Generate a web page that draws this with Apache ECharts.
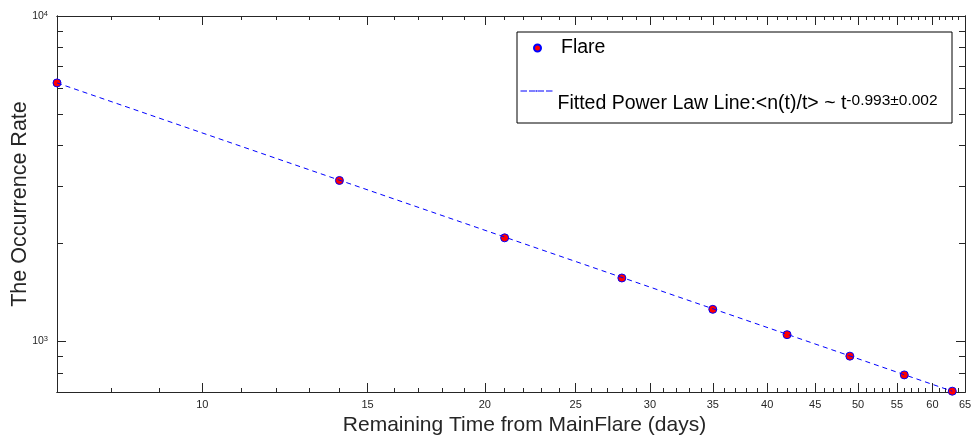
<!DOCTYPE html>
<html>
<head>
<meta charset="utf-8">
<script src="https://cdn.jsdelivr.net/npm/echarts@6/dist/echarts.min.js"></script>
<style>html,body{margin:0;padding:0;background:#fff}#c{width:971px;height:439px}</style>
</head>
<body>
<div id="c"></div>
<script>
// ---- data ----
const days = [7, 14, 21, 28, 35, 42, 49, 56, 63];
const rates = [6230, 3125, 2083, 1568, 1256, 1050, 902, 790, 704];
const fitDays = [7, 63];
const fitRates = [6230, 704];
const xMajorTicks = [10, 15, 20, 25, 30, 35, 40, 45, 50, 55, 60, 65];
const xMinorTicks = [];
for (let i = 7; i <= 65; i++) xMinorTicks.push(i);
const yMajorTicks = [1000, 10000];
const yMinorTicks = [800, 900, 2000, 3000, 4000, 5000, 6000, 7000, 8000, 9000];
const xMin = 7, xMax = 65, yMin = 700, yMax = 10000;

const FONT = 'Liberation Sans';
const AX = '#262626';
const L = Math.log10;

function xHelper(position, ticks, len, labels, extra) {
  return Object.assign({
    type: 'value', position: position, min: L(xMin), max: L(xMax),
    axisLine: {show: true, onZero: false, lineStyle: {color: AX, width: 1}},
    axisTick: {show: true, inside: true, length: len, customValues: ticks.map(L), lineStyle: {color: AX, width: 1}},
    axisLabel: labels ? {show: true, customValues: ticks.map(L), margin: 7, fontFamily: FONT, fontSize: 11, color: AX,
      formatter: v => String(Math.round(Math.pow(10, v)))} : {show: false},
    splitLine: {show: false}
  }, extra || {});
}
function yHelper(position, ticks, len, labels, extra) {
  return Object.assign({
    type: 'value', position: position, min: L(yMin), max: L(yMax),
    axisLine: {show: true, onZero: false, lineStyle: {color: AX, width: 1}},
    axisTick: {show: true, inside: true, length: len, customValues: ticks.map(L), lineStyle: {color: AX, width: 1}},
    axisLabel: labels ? {show: true, customValues: ticks.map(L), margin: 9, fontFamily: FONT, color: AX,
      formatter: v => '{b|10}{s|' + Math.round(v) + '}',
      rich: {b: {fontSize: 10.5, fontFamily: FONT, color: AX, lineHeight: 13},
             s: {fontSize: 7.5, fontFamily: FONT, color: AX, lineHeight: 8, verticalAlign: 'top'}}} : {show: false},
    splitLine: {show: false}
  }, extra || {});
}

const chart = echarts.init(document.getElementById('c'));
chart.setOption({
  animation: false,
  backgroundColor: '#fff',
  grid: {left: 57, top: 16, right: 6, bottom: 47, outerBoundsMode: 'none', containLabel: false},
  xAxis: [
    {type: 'log', min: xMin, max: xMax, show: false, splitLine: {show: false}},
    xHelper('bottom', xMajorTicks, 9, true, {
      name: 'Remaining Time from MainFlare (days)', nameLocation: 'middle', nameGap: 23, nameMoveOverlap: false,
      nameTextStyle: {fontFamily: FONT, fontSize: 21, color: AX, padding: [0, 0, 0, 27]}}),
    xHelper('bottom', xMinorTicks, 4, false),
    xHelper('top', xMajorTicks, 9, false),
    xHelper('top', xMinorTicks, 4, false)
  ],
  yAxis: [
    {type: 'log', min: yMin, max: yMax, show: false, splitLine: {show: false}},
    yHelper('left', yMajorTicks, 9, true, {
      name: 'The Occurrence Rate', nameLocation: 'middle', nameGap: 26, nameMoveOverlap: false,
      nameTextStyle: {fontFamily: FONT, fontSize: 21.5, color: AX}}),
    yHelper('left', yMinorTicks, 6, false),
    yHelper('right', yMajorTicks, 9, false),
    yHelper('right', yMinorTicks, 6, false)
  ],
  legend: [
    {data: ['Flare'], left: 533, top: 37, padding: 0, itemWidth: 7, itemHeight: 7, icon: 'circle',
     textStyle: {fontFamily: FONT, fontSize: 19.5, color: '#000', lineHeight: 22, padding: [0, 0, 0, 15]}},
    {data: ['Fit'], left: 520, top: 67, padding: 0, itemWidth: 32, itemHeight: 2,
     lineStyle: {type: [6.5, 2], width: 1},
     formatter: () => '{t|Fitted Power Law Line:<n(t)/t> ~ t}{s|-0.993\u00b10.002}',
     textStyle: {fontFamily: FONT, fontSize: 19.5, color: '#000', lineHeight: 22, padding: [26, 0, 0, 0],
       rich: {t: {fontFamily: FONT, fontSize: 19.5, color: '#000', lineHeight: 22},
              s: {fontFamily: FONT, fontSize: 15.5, color: '#000', lineHeight: 15, verticalAlign: 'top'}}}}
  ],
  graphic: [
    {type: 'rect', shape: {x: 517, y: 32, width: 435, height: 91}, style: {fill: 'none', stroke: '#000', lineWidth: 1}, z: 1}
  ],
  series: [
    {name: 'Flare', type: 'scatter', xAxisIndex: 0, yAxisIndex: 0, symbol: 'circle', symbolSize: 8,
     itemStyle: {color: '#ff0000', borderColor: '#0000ff', borderWidth: 1, opacity: 1},
     data: days.map((d, i) => [d, rates[i]]), z: 3},
    {name: 'Fit', type: 'line', xAxisIndex: 0, yAxisIndex: 0, symbol: 'none',
     lineStyle: {color: '#0000ff', width: 1, type: [5, 4]}, itemStyle: {color: '#0000ff'},
     data: fitDays.map((d, i) => [d, fitRates[i]]), z: 4}
  ]
});
</script>
</body>
</html>
